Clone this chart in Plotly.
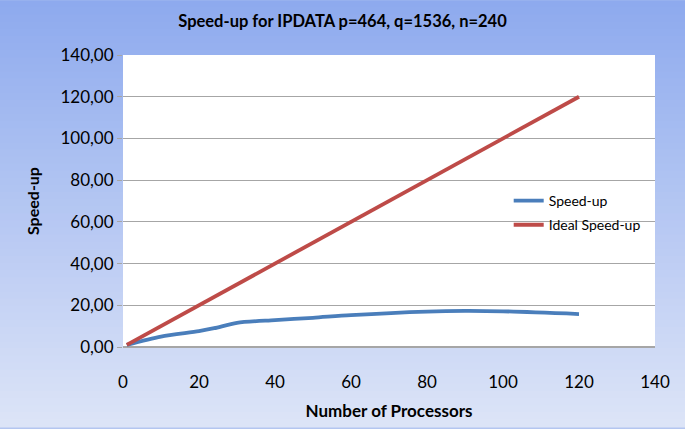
import plotly.graph_objects as go

processors = [1, 10, 20, 24, 30, 40, 50, 60, 80, 90, 100, 120]
speedup = [1.0, 5.0, 7.6, 9.0, 11.6, 12.9, 14.0, 15.3, 17.0, 17.3, 17.1, 15.8]
ideal_x = [1, 120]
ideal = [1, 120]

title_text = "Speed-up for IPDATA p=464, q=1536, n=240"
x_title = "Number of Processors"
y_title = "Speed-up"

W, H = 685, 429
L, R, T, B = 123, 30, 55, 80
ph = H - T - B
pw = W - L - R

fig = go.Figure()
fig.add_trace(go.Scatter(x=processors, y=speedup, mode="lines", name="Speed-up", legendgroup="a",
                         line=dict(color="#4a7ebb", width=3.8, shape="spline", smoothing=0.8)))
fig.add_trace(go.Scatter(x=ideal_x, y=ideal, mode="lines", name="Ideal Speed-up", legendgroup="b",
                         line=dict(color="#be4b48", width=3.8)))

# gradient background stripes
top = (142, 170, 238)
bot = (220, 228, 247)
n = 60
shapes = []
for i in range(n):
    f = i / (n - 1)
    c = tuple(round(top[k] + (bot[k] - top[k]) * f) for k in range(3))
    py0 = H * i / n
    py1 = H * (i + 1) / n + 1
    shapes.append(dict(type="rect", xref="paper", yref="paper", layer="below",
                       x0=-L / pw - 0.01, x1=(W - L) / pw + 0.01,
                       y0=(H - B - py1) / ph, y1=(H - B - py0) / ph,
                       fillcolor="rgb(%d,%d,%d)" % c, line=dict(width=0)))
shapes.append(dict(type="rect", xref="paper", yref="paper", layer="below",
                   x0=0, x1=1, y0=0, y1=1, fillcolor="white", line=dict(width=0)))

fig.update_layout(
    width=W, height=H,
    margin=dict(l=L, r=R, t=T, b=B),
    paper_bgcolor="#b4c6f0", plot_bgcolor="rgba(0,0,0,0)",
    separators=",.",
    font=dict(family="Lato, Open Sans, sans-serif", color="black", size=17),
    title=dict(text="<b>" + title_text + "</b>", x=0.5, xanchor="center", y=1 - 21 / H,
               yanchor="middle", font=dict(size=16.5)),
    shapes=shapes,
    showlegend=True,
    legend=dict(x=0.725, y=0.555, xanchor="left", yanchor="top", bgcolor="rgba(0,0,0,0)",
                font=dict(size=14), itemwidth=30, tracegroupgap=3),
    xaxis=dict(range=[0, 140], dtick=20, tick0=0, showgrid=False, zeroline=False,
               showline=False, ticks="outside", ticklen=20, tickcolor="rgba(0,0,0,0)",
               tickfont=dict(size=17),
               title=dict(text="<b>" + x_title + "</b>", font=dict(size=17), standoff=13)),
    yaxis=dict(range=[0, 140], dtick=20, tick0=0, tickformat=".2f", showgrid=True,
               gridcolor="#a6a6a6", gridwidth=1, zeroline=True, zerolinecolor="#a6a6a6",
               showline=False, ticks="outside", ticklen=5, tickcolor="#a6a6a6",
               tickfont=dict(size=17),
               title=dict(text="<b>" + y_title + "</b>", font=dict(size=16), standoff=16)),
)

fig.write_html("out.html", config={"displayModeBar": False},
               post_script="document.body.style.margin='0';document.body.style.padding='0';")
